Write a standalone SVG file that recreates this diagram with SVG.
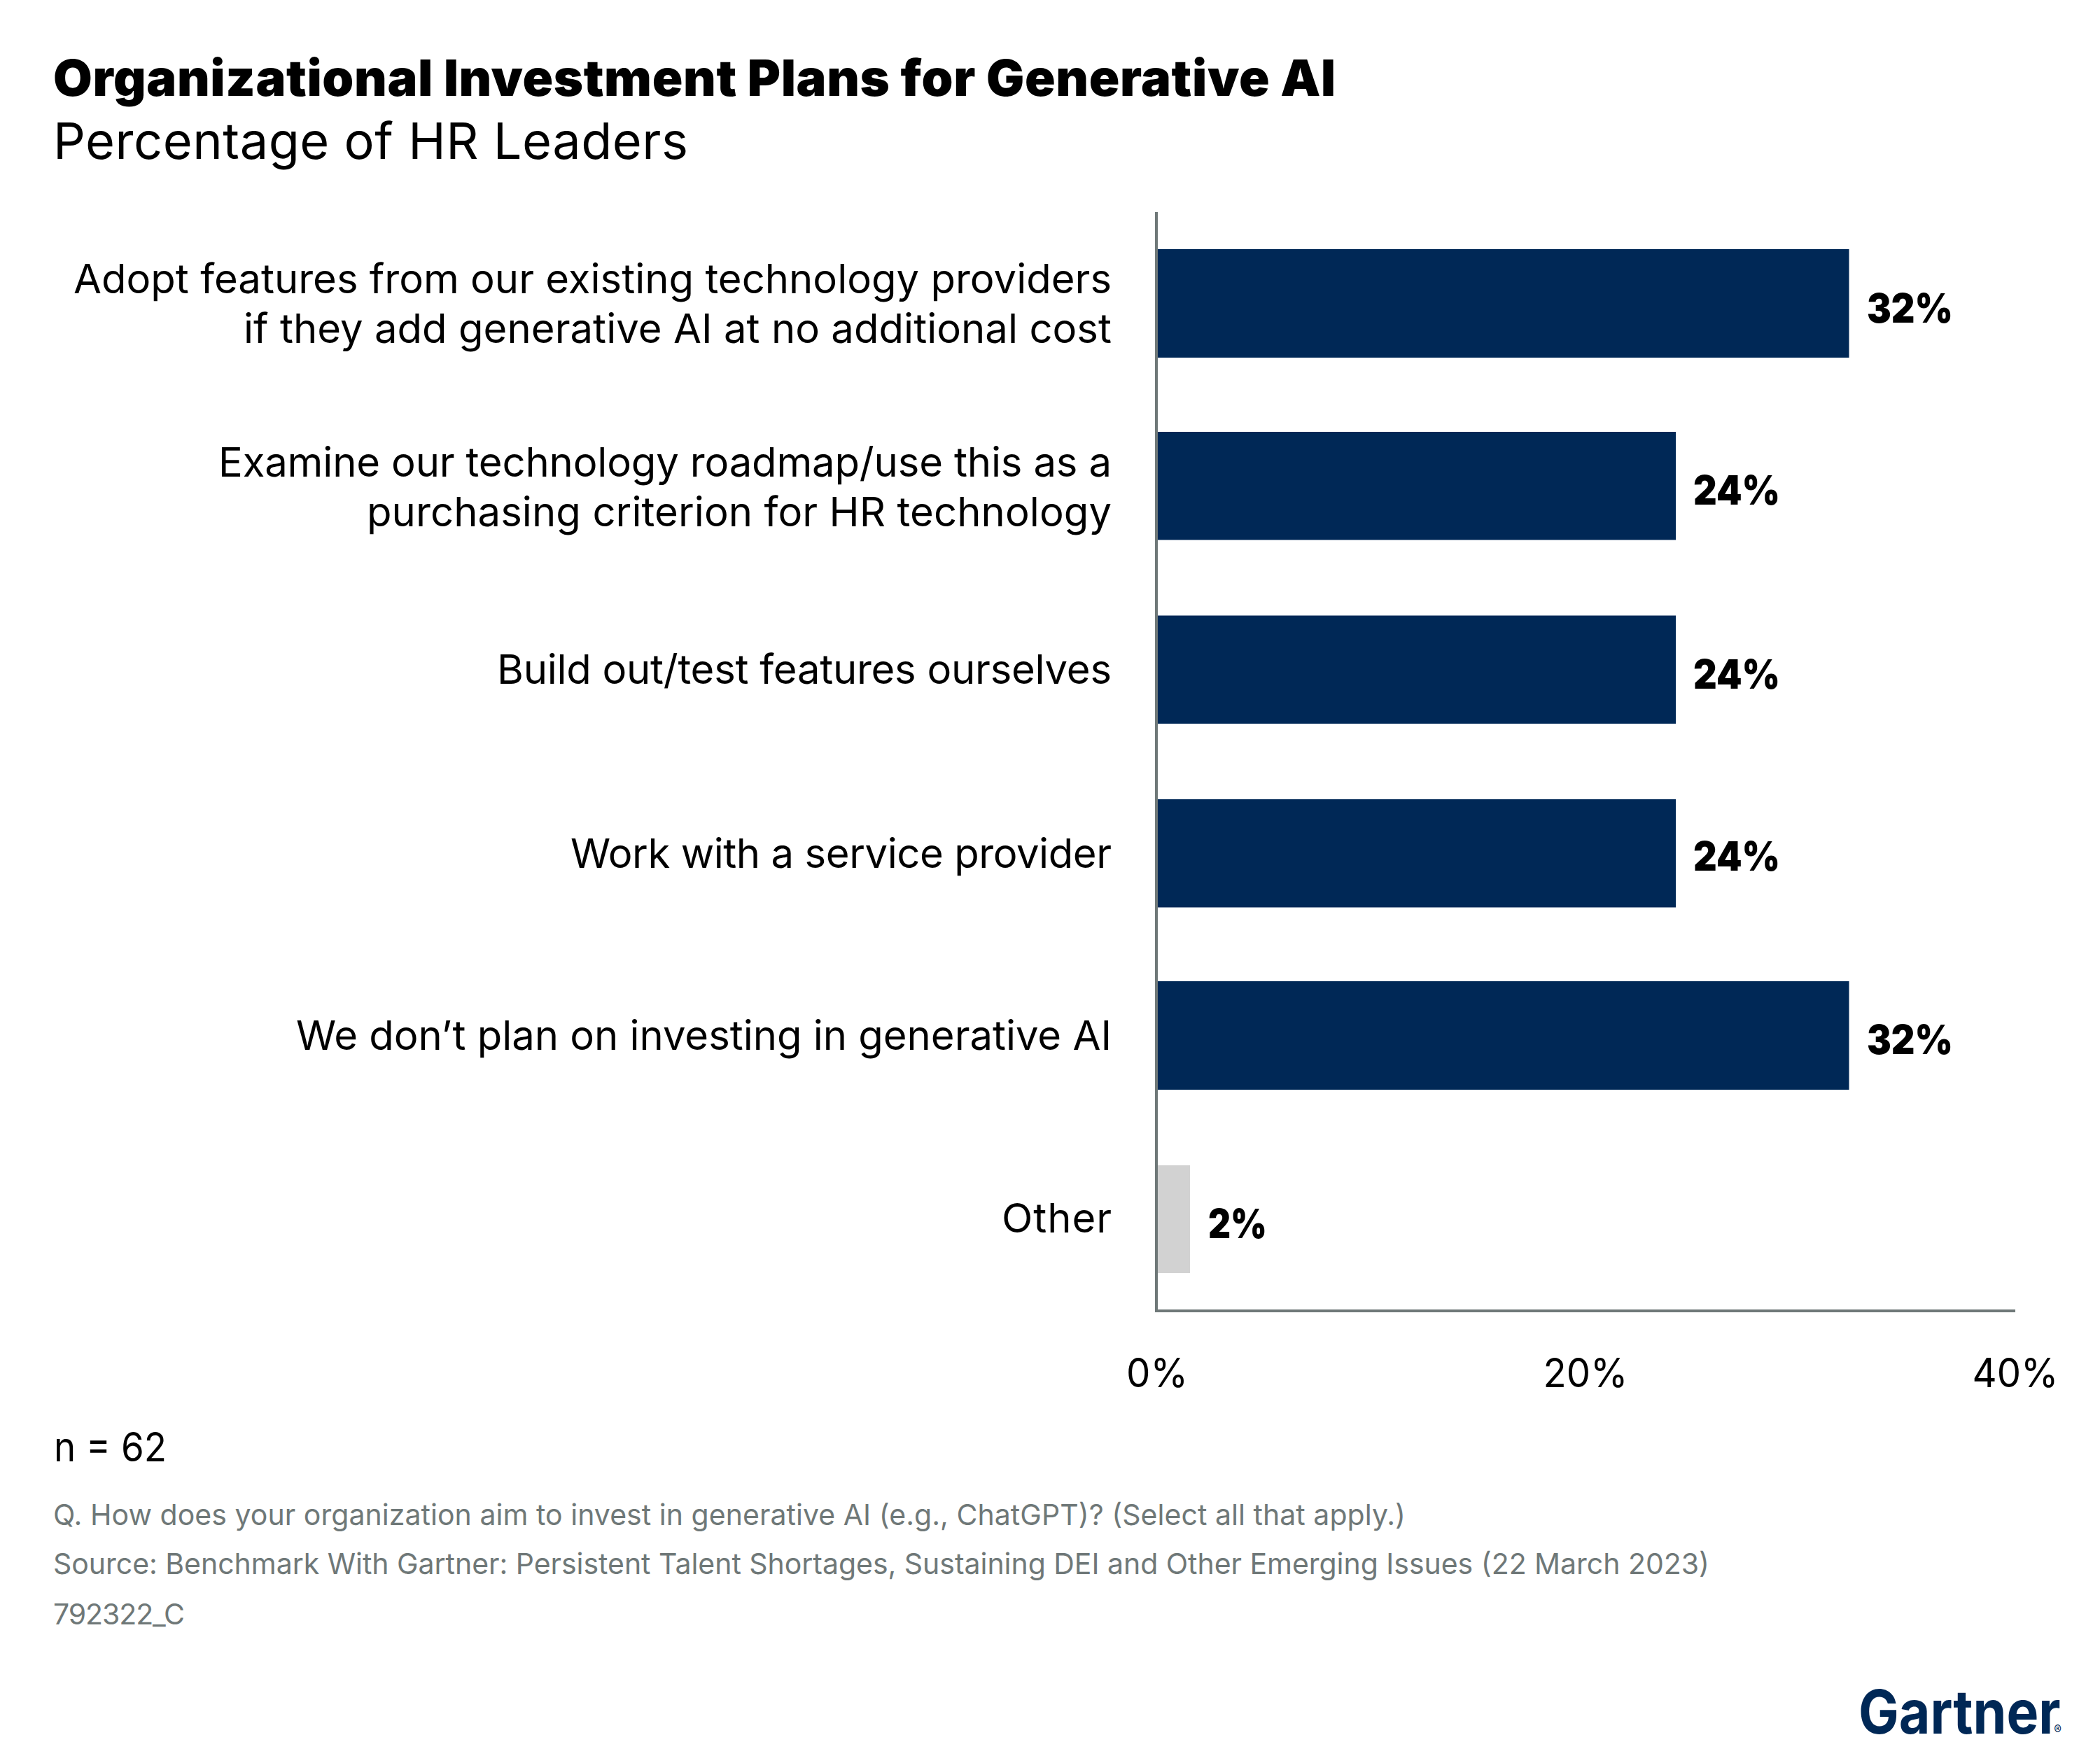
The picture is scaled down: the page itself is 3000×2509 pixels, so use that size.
<svg xmlns="http://www.w3.org/2000/svg" width="3000" height="2509" viewBox="0 0 3000 2509">
<style>
text{font-family:"Inter","Liberation Sans",sans-serif;fill:#000}
.t{font-size:72px;font-weight:900}
.s{font-size:72px;font-weight:400}
.l{font-size:58px;text-anchor:end}
.v{font-size:58px;font-weight:900}
.a{font-size:58px;text-anchor:middle}
.f{font-size:41px;fill:#6f7878}
.b{fill:#002856}
.o{fill:#d2d2d2}
.ax{stroke:#6f7878;stroke-width:4;fill:none}
.g{font-size:87px;font-weight:700;fill:#002856}
.r{font-size:18px;font-weight:400}
</style>
<rect width="3000" height="2509" fill="#fff"/>
<g id="title"><text class="t" x="76" y="137" textLength="1832">Organizational Investment Plans for Generative AI</text><text class="s" x="76" y="227" textLength="907">Percentage of HR Leaders</text></g>
<g id="axes"><path class="ax" d="M1652 303V1873H2879"/></g>
<g id="bar1"><rect class="b" x="1654" y="356" width="987.5" height="155"/><text class="l" x="1588" y="419" textLength="1483">Adopt features from our existing technology providers</text><text class="l" x="1588" y="490" textLength="1240">if they add generative AI at no additional cost</text><text class="v" x="2667" y="461" textLength="123" lengthAdjust="spacingAndGlyphs">32%</text></g>
<g id="bar2"><rect class="b" x="1654" y="617" width="740" height="154.5"/><text class="l" x="1588" y="681" textLength="1276">Examine our technology roadmap/use this as a</text><text class="l" x="1588" y="752" textLength="1064">purchasing criterion for HR technology</text><text class="v" x="2419" y="721" textLength="124" lengthAdjust="spacingAndGlyphs">24%</text></g>
<g id="bar3"><rect class="b" x="1654" y="879.5" width="740" height="154.5"/><text class="l" x="1588" y="977" textLength="878">Build out/test features ourselves</text><text class="v" x="2419" y="984" textLength="124" lengthAdjust="spacingAndGlyphs">24%</text></g>
<g id="bar4"><rect class="b" x="1654" y="1142" width="740" height="154.5"/><text class="l" x="1588" y="1240" textLength="773">Work with a service provider</text><text class="v" x="2419" y="1244" textLength="124" lengthAdjust="spacingAndGlyphs">24%</text></g>
<g id="bar5"><rect class="b" x="1654" y="1402" width="987.5" height="155"/><text class="l" x="1588" y="1500" textLength="1165">We don’t plan on investing in generative AI</text><text class="v" x="2667" y="1506" textLength="123" lengthAdjust="spacingAndGlyphs">32%</text></g>
<g id="bar6"><rect class="o" x="1654" y="1665" width="46" height="154"/><text class="l" x="1588" y="1761" textLength="157">Other</text><text class="v" x="1726" y="1769" textLength="84" lengthAdjust="spacingAndGlyphs">2%</text></g>
<g id="ticks"><text class="a" x="1653" y="1982" textLength="88" lengthAdjust="spacingAndGlyphs">0%</text><text class="a" x="2265" y="1982" textLength="121" lengthAdjust="spacingAndGlyphs">20%</text><text class="a" x="2879" y="1982" textLength="123" lengthAdjust="spacingAndGlyphs">40%</text></g>
<g id="notes"><text class="a" style="text-anchor:start" x="77" y="2088" textLength="161" lengthAdjust="spacingAndGlyphs">n = 62</text>
<text class="f" x="76" y="2179" textLength="1932">Q. How does your organization aim to invest in generative AI (e.g., ChatGPT)? (Select all that apply.)</text>
<text class="f" x="76" y="2249" textLength="2366">Source: Benchmark With Gartner: Persistent Talent Shortages, Sustaining DEI and Other Emerging Issues (22 March 2023)</text>
<text class="f" x="76" y="2321" textLength="188">792322_C</text></g>
<g id="logo"><text class="g" transform="translate(2655 2477) scale(.885 1)">Gartner<tspan class="r" dx="-10.5" dy="1">®</tspan></text></g>
</svg>
